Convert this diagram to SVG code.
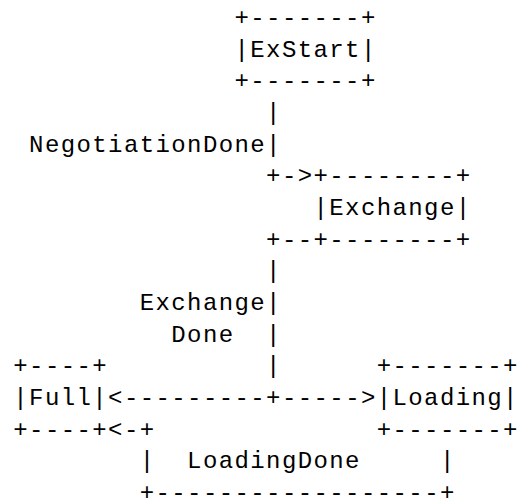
<svg xmlns="http://www.w3.org/2000/svg" width="518" height="501" viewBox="0 0 518 501">
<style>
text { font-family: "Liberation Mono", "DejaVu Sans Mono", monospace; font-size: 24px; letter-spacing: 1.4px; fill: #000; }
</style>
<rect width="518" height="501" fill="#fff"/>
<g id="ExStart">
<text x="234.5" y="25.0">+-------+</text>
<text x="234.5" y="56.7">|ExStart|</text>
<text x="234.5" y="88.3">+-------+</text>
</g>
<g id="Exchange">
<text x="313.5" y="183.3">+--------+</text>
<text x="313.5" y="215.0">|Exchange|</text>
<text x="313.5" y="246.6">+--------+</text>
</g>
<g id="Full">
<text x="13.3" y="373.3">+----+</text>
<text x="13.3" y="404.9">|Full|</text>
<text x="13.3" y="436.6">+----+</text>
</g>
<g id="Loading">
<text x="376.7" y="373.3">+-------+</text>
<text x="376.7" y="404.9">|Loading|</text>
<text x="376.7" y="436.6">+-------+</text>
</g>
<g id="connectors">
<text x="266.1" y="120.0">|</text>
<text x="266.1" y="151.6">|</text>
<text x="266.1" y="183.3">+-&gt;</text>
<text x="266.1" y="246.6">+--</text>
<text x="266.1" y="278.3">|</text>
<text x="266.1" y="309.9">|</text>
<text x="266.1" y="341.6">|</text>
<text x="266.1" y="373.3">|</text>
<text x="108.1" y="404.9">&lt;---------+-----&gt;</text>
<text x="108.1" y="436.6">&lt;-+</text>
<text x="139.7" y="468.2">|</text>
<text x="439.9" y="468.2">|</text>
<text x="139.7" y="499.9">+------------------+</text>
</g>
<g id="labels">
<text x="29.1" y="151.6">NegotiationDone</text>
<text x="139.7" y="309.9">Exchange</text>
<text x="171.3" y="341.6">Done</text>
<text x="187.1" y="468.2">LoadingDone</text>
</g>
</svg>
